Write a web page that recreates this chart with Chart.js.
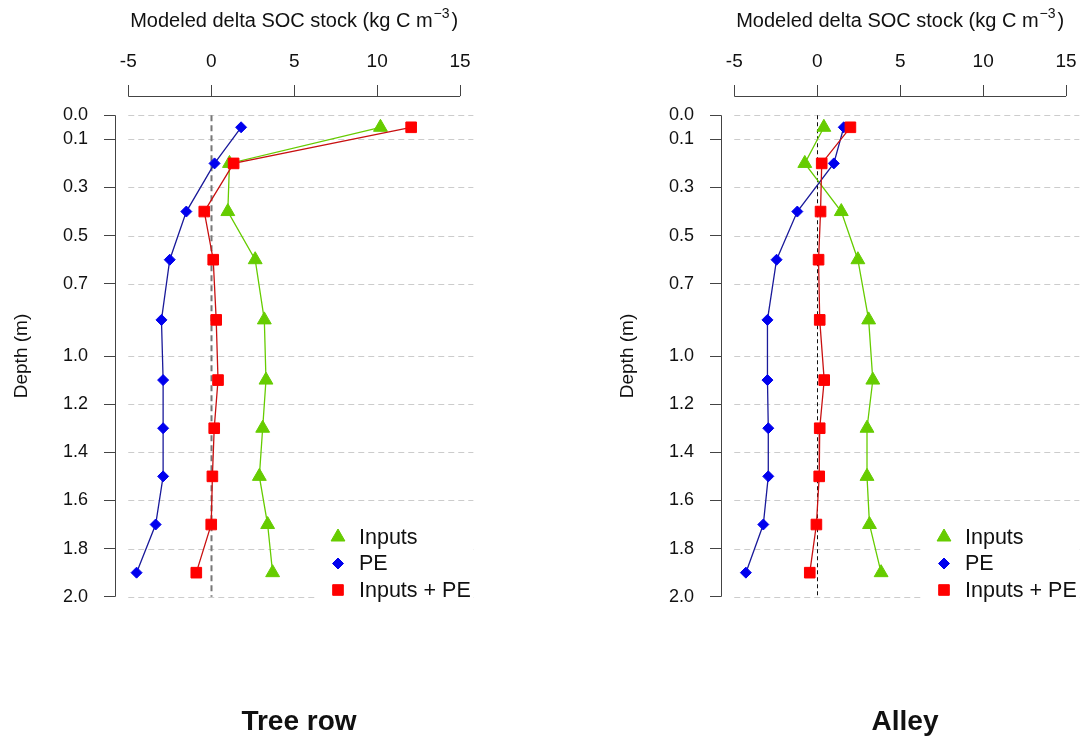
<!DOCTYPE html>
<html>
<head>
<meta charset="utf-8">
<script src="https://cdn.jsdelivr.net/npm/chart.js@4.4.1/dist/chart.umd.min.js"></script>
<style>
  body { margin: 0; background: #fff; font-family: "Liberation Sans", Arial, sans-serif; }
  #wrap { position: relative; width: 1089px; height: 740px; overflow: hidden; }
  canvas { position: absolute; top: 0; }
  .panel-title { position: absolute; top: 705px; width: 368px; text-align: center;
                 font-weight: bold; font-size: 28px; line-height: 32px; color: #111; }
</style>
</head>
<body>
<div id="wrap">
  <canvas id="treeRow" width="483" height="740" style="left:0"></canvas>
  <canvas id="alley" width="483" height="740" style="left:606px"></canvas>
  <div class="panel-title" style="left:115px">Tree row</div>
  <div class="panel-title" style="left:721px">Alley</div>
</div>
<script>
// depth of each layer midpoint (m)
const depths = [0.05, 0.2, 0.4, 0.6, 0.85, 1.1, 1.3, 1.5, 1.7, 1.9];
const depthTicks = [0.0, 0.1, 0.3, 0.5, 0.7, 1.0, 1.2, 1.4, 1.6, 1.8, 2.0];
const socTicks = [-5, 0, 5, 10, 15];
const seriesNames = ["Inputs", "PE", "Inputs + PE"];

// Tree row
const treeInputs = [10.2, 1.1, 1.0, 2.65, 3.2, 3.3, 3.1, 2.9, 3.4, 3.7];
const treePE = [1.8, 0.2, -1.5, -2.5, -3.0, -2.9, -2.9, -2.9, -3.35, -4.5];
const treeBoth = [12.05, 1.35, -0.42, 0.12, 0.3, 0.41, 0.18, 0.07, 0.0, -0.9];

// Alley
const alleyInputs = [0.4, -0.75, 1.45, 2.45, 3.1, 3.35, 3.0, 3.0, 3.15, 3.85];
const alleyPE = [1.6, 1.0, -1.2, -2.45, -3.0, -3.0, -2.95, -2.95, -3.25, -4.3];
const alleyBoth = [2.0, 0.27, 0.2, 0.08, 0.15, 0.42, 0.15, 0.12, -0.05, -0.45];

const FONT = '"Liberation Sans", Arial, sans-serif';
Chart.defaults.font.family = FONT;

const seriesStyles = [
  { pointStyle: "triangle", pointRadius: 8, pointBackgroundColor: "#66cc00", pointBorderColor: "#66cc00", borderColor: "#66cc00", order: 3 },
  { pointStyle: "rectRot", pointRadius: 5.5, pointBackgroundColor: "#0000ee", pointBorderColor: "#0000ee", borderColor: "#1a1a9a", order: 2 },
  { pointStyle: "rect", pointRadius: 7.5, pointBackgroundColor: "#ff0000", pointBorderColor: "#ff0000", borderColor: "#c81010", order: 1 }
];

// gridlines, zero line, R-style axis lines, top title
const decor = {
  id: "decor",
  beforeDatasetsDraw(chart, args, opts) {
    const { ctx, chartArea: a, scales: { x, y } } = chart;
    ctx.save();
    ctx.strokeStyle = "#cccccc";
    ctx.lineWidth = 1;
    ctx.setLineDash([6, 4]);
    depthTicks.forEach(d => {
      const py = Math.round(y.getPixelForValue(d)) + 0.5;
      ctx.beginPath();
      ctx.moveTo(x.getPixelForValue(socTicks[0]), py);
      ctx.lineTo(a.right, py);
      ctx.stroke();
    });

    const px0 = Math.round(x.getPixelForValue(0)) + 0.5;
    ctx.strokeStyle = opts.zeroColor;
    ctx.lineWidth = opts.zeroWidth;
    ctx.setLineDash(opts.zeroDash);
    ctx.beginPath();
    ctx.moveTo(px0, y.getPixelForValue(depthTicks[0]));
    ctx.lineTo(px0, y.getPixelForValue(depthTicks[depthTicks.length - 1]));
    ctx.stroke();

    ctx.setLineDash([]);
    ctx.strokeStyle = "#444";
    ctx.lineWidth = 1;
    ctx.beginPath();
    ctx.moveTo(x.getPixelForValue(socTicks[0]), a.top + 0.5);
    ctx.lineTo(x.getPixelForValue(socTicks[socTicks.length - 1]), a.top + 0.5);
    ctx.moveTo(a.left + 0.5, y.getPixelForValue(depthTicks[0]));
    ctx.lineTo(a.left + 0.5, y.getPixelForValue(depthTicks[depthTicks.length - 1]));
    ctx.stroke();
    ctx.restore();
  },
  afterDraw(chart) {
    const { ctx, chartArea: a } = chart;
    ctx.save();
    // title with superscript
    const main = "Modeled delta SOC stock (kg C m";
    const sup = "\u22123";
    ctx.font = "20px " + FONT;
    const w1 = ctx.measureText(main).width;
    const w3 = ctx.measureText(")").width;
    ctx.font = "14px " + FONT;
    const w2 = ctx.measureText(sup).width;
    let sx = (a.left + a.right) / 2 - (w1 + w2 + w3 + 3) / 2;
    const base = 27;
    ctx.fillStyle = "#111";
    ctx.textAlign = "left";
    ctx.textBaseline = "alphabetic";
    ctx.font = "20px " + FONT;
    ctx.fillText(main, sx, base);
    sx += w1 + 1;
    ctx.font = "14px " + FONT;
    ctx.fillText(sup, sx, base - 9);
    sx += w2 + 2;
    ctx.font = "20px " + FONT;
    ctx.fillText(")", sx, base);

    // legend inside the plot
    const left = a.left + 203, top = a.bottom - 104;
    ctx.fillStyle = "#fff";
    ctx.fillRect(left, top, a.right - left, a.bottom - top);
    ctx.font = "21.5px " + FONT;
    ctx.textBaseline = "middle";
    chart.data.datasets.forEach((ds, i) => {
      const cy = a.bottom - 79 + i * 26.5;
      ctx.fillStyle = ds.pointBackgroundColor;
      ctx.strokeStyle = ds.pointBorderColor;
      ctx.lineWidth = 1;
      Chart.helpers.drawPoint(ctx, { pointStyle: ds.pointStyle, radius: ds.pointRadius, rotation: 0, borderWidth: 1 }, left + 20, cy);
      ctx.fillStyle = "#111";
      ctx.fillText(ds.label, left + 41, cy + 1);
    });
    ctx.restore();
  }
};

function buildPanel(id, inputs, pe, both, zero) {
  const datasets = [inputs, pe, both].map((vals, i) => Object.assign({
    label: seriesNames[i],
    data: vals.map((v, k) => ({ x: v, y: depths[k] })),
    showLine: true,
    borderWidth: 1.3,
    pointBorderWidth: 1,
    tension: 0
  }, seriesStyles[i]));

  new Chart(document.getElementById(id), {
    type: "scatter",
    data: { datasets },
    plugins: [decor],
    options: {
      responsive: false,
      animation: false,
      layout: { padding: { left: 0, top: 0, right: 0, bottom: 124 } },
      plugins: { legend: { display: false }, tooltip: { enabled: false }, decor: zero },
      scales: {
        x: {
          type: "linear", position: "top", min: -5.8, max: 15.8,
          afterBuildTicks: s => { s.ticks = socTicks.map(v => ({ value: v })); },
          afterFit: s => { s.height = 96; },
          grid: { drawOnChartArea: false, drawTicks: true, tickLength: 11, tickColor: "#444", tickWidth: 1 },
          border: { display: false },
          ticks: { autoSkip: false, maxRotation: 0, padding: 12, color: "#111", font: { size: 19 }, callback: v => String(v) }
        },
        y: {
          type: "linear", reverse: true, min: -0.08, max: 2.08,
          afterBuildTicks: s => { s.ticks = depthTicks.map(v => ({ value: v })); },
          afterFit: s => { s.width = 115; },
          grid: { drawOnChartArea: false, drawTicks: true, tickLength: 11, tickColor: "#444", tickWidth: 1 },
          border: { display: false },
          title: { display: true, text: "Depth (m)", color: "#111", font: { size: 19 }, padding: { top: 10, bottom: 0 } },
          ticks: { autoSkip: false, padding: 16, color: "#111", font: { size: 18 }, callback: v => Number(v).toFixed(1) }
        }
      }
    }
  });
}

buildPanel("treeRow", treeInputs, treePE, treeBoth, { zeroColor: "#777", zeroWidth: 2, zeroDash: [6, 4] });
buildPanel("alley", alleyInputs, alleyPE, alleyBoth, { zeroColor: "#111", zeroWidth: 1, zeroDash: [4, 3] });
</script>
</body>
</html>
